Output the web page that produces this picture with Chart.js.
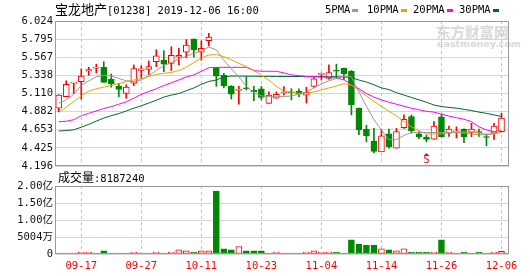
<!DOCTYPE html>
<html>
<head>
<meta charset="utf-8">
<script src="https://cdn.jsdelivr.net/npm/chart.js@4.4.0/dist/chart.umd.min.js"></script>
<style>
  body { margin: 0; background: #fff; width: 530px; height: 276px; overflow: hidden; position: relative;
         font-family: "DejaVu Sans Mono", "Noto Sans CJK SC", monospace; }
  canvas { position: absolute; left: 0; }
  #main { top: 0; }
  #vol { top: 172px; }
  .t { position: absolute; white-space: nowrap; color: #000; font-size: 10.5px; line-height: 12px; }
  .cjk { font-family: "Noto Sans CJK SC"; }
  .mk { display: inline-block; width: 6px; height: 3px; vertical-align: middle; margin-left: 2px; }
  .wm { position: absolute; color: #d9d9d9; font-weight: bold; white-space: nowrap; }
</style>
</head>
<body>
<div class="wm cjk" style="left:436px;top:24px;font-size:14.5px;line-height:16px;">东方财富网</div>
<div class="wm" style="left:437px;top:39px;font-size:9.5px;line-height:10px;font-family:'DejaVu Sans';">eastmoney.com</div>
<canvas id="main" width="530" height="176"></canvas>
<canvas id="vol" width="530" height="104"></canvas>
<div class="t" style="left:55px;top:3px;"><span class="cjk" style="font-size:13px;">宝龙地产</span>[01238] 2019-12-06 16:00</div>
<div class="t" style="left:325px;top:3px;">5PMA<span class="mk" style="background:#999"></span></div>
<div class="t" style="left:367px;top:3px;">10PMA<span class="mk" style="background:#f0a000"></span></div>
<div class="t" style="left:413px;top:3px;">20PMA<span class="mk" style="background:#ff00ff"></span></div>
<div class="t" style="left:459px;top:3px;">30PMA<span class="mk" style="background:#006633"></span></div>
<div class="t" style="left:58px;top:171px;"><span class="cjk" style="font-size:12px;">成交量</span>:8187240</div>
<script>
// trading days shown on the chart
const dates = ['09-12','09-13','09-16','09-17','09-18','09-19','09-20','09-23','09-24','09-25',
  '09-26','09-27','09-30','10-02','10-03','10-04','10-08','10-09','10-10','10-11',
  '10-14','10-15','10-16','10-17','10-18','10-21','10-22','10-23','10-24','10-25',
  '10-28','10-29','10-30','10-31','11-01','11-04','11-05','11-06','11-07','11-08',
  '11-11','11-12','11-13','11-14','11-15','11-18','11-19','11-20','11-21','11-22',
  '11-25','11-26','11-27','11-28','11-29','12-02','12-03','12-04','12-05','12-06'];
const tickDates = ['09-17','09-27','10-11','10-23','11-04','11-14','11-26','12-06'];

// daily candles
const openP = [4.925,5.07,5.24,5.26,5.39,5.43,5.44,5.29,5.205,5.11,
  5.24,5.40,5.415,5.51,5.53,5.49,5.57,5.63,5.795,5.63,
  5.775,5.435,5.34,5.205,5.15,5.18,5.15,5.17,4.985,5.05,
  5.12,5.13,5.14,5.09,5.20,5.35,5.30,5.40,5.43,5.39,
  4.925,4.66,4.51,4.375,4.60,4.42,4.68,4.82,4.60,4.56,
  4.535,4.815,4.61,4.625,4.66,4.62,4.63,4.565,4.61,4.63];
const highP = [5.095,5.27,5.25,5.42,5.44,5.48,5.51,5.355,5.24,5.22,
  5.47,5.46,5.52,5.66,5.65,5.70,5.68,5.79,5.80,5.775,
  5.87,5.44,5.365,5.21,5.20,5.32,5.20,5.20,5.13,5.13,
  5.196,5.17,5.17,5.19,5.31,5.37,5.47,5.48,5.43,5.40,
  4.925,4.71,4.67,4.66,4.66,4.67,4.84,4.84,4.63,4.585,
  4.755,4.85,4.70,4.69,4.665,4.735,4.66,4.60,4.735,4.86];
const lowP = [4.88,5.07,5.11,5.04,5.34,5.37,5.25,5.19,5.07,5.05,
  5.21,5.30,5.35,5.45,5.385,5.40,5.47,5.56,5.57,5.53,
  5.71,5.20,5.18,5.04,4.975,5.155,5.02,5.03,4.985,5.05,
  5.09,5.03,5.07,4.99,5.19,5.28,5.29,5.31,5.28,4.84,
  4.59,4.50,4.36,4.375,4.42,4.42,4.67,4.61,4.54,4.50,
  4.53,4.56,4.57,4.55,4.49,4.565,4.57,4.45,4.53,4.625];
const closeP = [5.09,5.225,5.25,5.33,5.41,5.44,5.25,5.235,5.16,5.19,
  5.425,5.42,5.45,5.585,5.48,5.59,5.59,5.72,5.66,5.68,
  5.82,5.33,5.21,5.10,5.155,5.17,5.13,5.06,5.09,5.10,
  5.125,5.12,5.10,5.125,5.295,5.365,5.375,5.39,5.36,4.97,
  4.655,4.575,4.38,4.575,4.44,4.63,4.785,4.64,4.565,4.53,
  4.70,4.565,4.66,4.64,4.565,4.66,4.615,4.555,4.70,4.80];

// moving averages as drawn
const ma5 = [4.986,5.03,5.10,5.21,5.27,5.32,5.34,5.33,5.30,5.27,
  5.26,5.28,5.335,5.40,5.46,5.50,5.545,5.58,5.615,5.65,
  5.695,5.66,5.53,5.42,5.32,5.20,5.12,5.08,5.07,5.07,
  5.07,5.08,5.10,5.13,5.18,5.23,5.27,5.30,5.33,5.32,
  5.13,4.95,4.78,4.65,4.525,4.53,4.58,4.62,4.618,4.618,
  4.618,4.618,4.618,4.615,4.61,4.60,4.59,4.59,4.60,4.62];
const ma10 = [4.87,4.94,5.01,5.08,5.14,5.17,5.19,5.21,5.235,5.26,
  5.28,5.295,5.325,5.35,5.365,5.375,5.40,5.44,5.50,5.56,
  5.595,5.60,5.575,5.535,5.49,5.45,5.40,5.34,5.28,5.20,
  5.14,5.125,5.112,5.112,5.13,5.155,5.18,5.205,5.235,5.215,
  5.15,5.08,5.01,4.95,4.885,4.83,4.755,4.69,4.64,4.60,
  4.60,4.60,4.615,4.62,4.625,4.628,4.615,4.595,4.61,4.65];
const ma20 = [4.754,4.76,4.78,4.83,4.86,4.89,4.92,4.945,4.975,5.005,
  5.05,5.10,5.135,5.17,5.21,5.245,5.28,5.32,5.345,5.39,
  5.435,5.44,5.44,5.44,5.44,5.44,5.40,5.39,5.39,5.39,
  5.37,5.345,5.335,5.325,5.32,5.318,5.314,5.305,5.285,5.22,
  5.17,5.11,5.065,5.03,5.00,4.975,4.95,4.925,4.905,4.885,
  4.875,4.85,4.825,4.805,4.785,4.755,4.69,4.65,4.628,4.64];
const ma30 = [4.637,4.643,4.652,4.685,4.72,4.762,4.80,4.83,4.856,4.89,
  4.925,4.955,4.99,5.025,5.065,5.09,5.11,5.145,5.18,5.225,
  5.262,5.28,5.32,5.33,5.33,5.328,5.328,5.326,5.326,5.325,
  5.325,5.324,5.324,5.323,5.322,5.322,5.321,5.32,5.32,5.31,
  5.28,5.255,5.22,5.18,5.16,5.12,5.09,5.06,5.03,5.00,
  4.965,4.945,4.935,4.925,4.91,4.895,4.875,4.86,4.84,4.82];

// volume, millions of shares
const volM = [3,3,3,6,6,3,9,3,3,3,
  6,3,3,6,3,6,12,9,6,9,
  9,185,15,12,22,9,9,9,3,6,
  3,3,3,6,9,6,6,6,3,42,
  29,26,26,15,12,9,15,6,6,6,
  6,42,6,3,6,3,6,3,6,8.19];

const priceTicks = [4.196, 4.425, 4.653, 4.882, 5.110, 5.338, 5.567, 5.795, 6.024];
const volTicks = [0, 50.04, 100.08, 150.12, 200.16];
const volTickLabels = ['0', '5004万', '1.00亿', '1.50亿', '2.00亿'];
const signalIdx = [49];

const RED = '#ff0000';
const GREEN = '#008800';
const FONT = { family: "'DejaVu Sans Mono', 'Noto Sans CJK SC'", size: 10.5 };

const isUp = closeP.map((c, i) => c >= openP[i]);
const xy = arr => arr.map((v, i) => ({ x: i, y: v }));

// dashed date lines + frame
const framePlugin = {
  id: 'frame',
  beforeDatasetsDraw(chart) {
    const { ctx, chartArea: a, scales: { x } } = chart;
    ctx.save();
    ctx.strokeStyle = '#c4c4c4';
    ctx.lineWidth = 1;
    ctx.setLineDash([3, 3]);
    tickDates.forEach(d => {
      const px = Math.round(x.getPixelForValue(dates.indexOf(d))) + 0.5;
      ctx.beginPath();
      ctx.moveTo(px, a.top);
      ctx.lineTo(px, a.bottom);
      ctx.stroke();
    });
    ctx.restore();
  },
  afterDraw(chart) {
    const { ctx, chartArea: a } = chart;
    ctx.save();
    ctx.strokeStyle = '#9a9a9a';
    ctx.lineWidth = 1;
    ctx.strokeRect(Math.round(a.left) + 0.5, Math.round(a.top) + 0.5,
      Math.round(a.right - a.left) - 1, Math.round(a.bottom - a.top) - 1);
    ctx.restore();
  }
};

// "S" signal under a candle
const signalPlugin = {
  id: 'signal',
  afterDatasetsDraw(chart) {
    const { ctx, scales: { x, y } } = chart;
    ctx.save();
    ctx.fillStyle = RED;
    signalIdx.forEach(i => {
      const px = Math.round(x.getPixelForValue(i)) + 0.5;
      const py = y.getPixelForValue(lowP[i]) + 11;
      ctx.beginPath();
      ctx.moveTo(px, py);
      ctx.lineTo(px - 3, py + 3);
      ctx.lineTo(px + 3, py + 3);
      ctx.closePath();
      ctx.fill();
      ctx.font = "10px 'DejaVu Sans Mono'";
      ctx.textAlign = 'center';
      ctx.textBaseline = 'top';
      ctx.fillText('S', px, py + 3);
    });
    ctx.restore();
  }
};

const maLine = (label, data, color, order) => ({
  type: 'line', label, data: xy(data), borderColor: color, borderWidth: 1,
  pointRadius: 0, tension: 0, fill: false, order
});

new Chart(document.getElementById('main'), {
  type: 'bar',
  data: {
    datasets: [
      maLine('5PMA', ma5, '#999999', 0),
      maLine('10PMA', ma10, '#f0a000', 0),
      maLine('20PMA', ma20, '#ff00ff', 0),
      maLine('30PMA', ma30, '#006633', 0),
      {
        label: 'body',
        data: openP.map((o, i) => ({ x: i, y: [o, closeP[i]] })),
        backgroundColor: isUp.map(u => u ? '#ffffff' : GREEN),
        borderColor: isUp.map(u => u ? RED : GREEN),
        borderWidth: 1, borderSkipped: false, barThickness: 6, minBarLength: 1,
        grouped: false, order: 5
      },
      {
        label: 'wick',
        data: lowP.map((l, i) => ({ x: i, y: [l, highP[i]] })),
        backgroundColor: isUp.map(u => u ? RED : GREEN),
        borderWidth: 0, barThickness: 1, grouped: false, order: 6
      }
    ]
  },
  options: {
    responsive: false,
    animation: false,
    layout: { padding: { top: 21, right: 21, bottom: 10, left: 0 } },
    plugins: { legend: { display: false }, tooltip: { enabled: false } },
    scales: {
      x: { type: 'linear', min: -0.5, max: 60, offset: false, display: false },
      y: {
        min: priceTicks[0], max: priceTicks[priceTicks.length - 1],
        afterFit(s) { s.width = 55; },
        afterBuildTicks(s) { s.ticks = priceTicks.map(v => ({ value: v })); },
        ticks: { callback: v => v.toFixed(3), font: FONT, color: '#111', padding: 2 },
        grid: { color: '#d6d6d6', drawTicks: false },
        border: { display: false }
      }
    }
  },
  plugins: [framePlugin, signalPlugin]
});

new Chart(document.getElementById('vol'), {
  type: 'bar',
  data: {
    datasets: [{
      label: 'volume',
      data: xy(volM),
      backgroundColor: isUp.map(u => u ? '#ffffff' : GREEN),
      borderColor: isUp.map(u => u ? RED : GREEN),
      borderWidth: 1, borderSkipped: false, barThickness: 6, grouped: false
    }]
  },
  options: {
    responsive: false,
    animation: false,
    layout: { padding: { top: 14, right: 21, bottom: 0, left: 0 } },
    plugins: { legend: { display: false }, tooltip: { enabled: false } },
    scales: {
      x: {
        type: 'linear', min: -0.5, max: 60, offset: false,
        afterFit(s) { s.height = 22; },
        afterBuildTicks(s) { s.ticks = tickDates.map(d => ({ value: dates.indexOf(d) })); },
        ticks: { callback: v => dates[v], font: FONT, color: RED, padding: 6, autoSkip: false, maxRotation: 0 },
        grid: { display: false, drawTicks: false },
        border: { display: false }
      },
      y: {
        min: volTicks[0], max: volTicks[volTicks.length - 1],
        afterFit(s) { s.width = 55; },
        afterBuildTicks(s) { s.ticks = volTicks.map(v => ({ value: v })); },
        ticks: { callback: v => volTickLabels[volTicks.indexOf(v)], font: FONT, color: '#111', padding: 2 },
        grid: { color: '#d6d6d6', drawTicks: false },
        border: { display: false }
      }
    }
  },
  plugins: [framePlugin]
});
</script>
</body>
</html>
